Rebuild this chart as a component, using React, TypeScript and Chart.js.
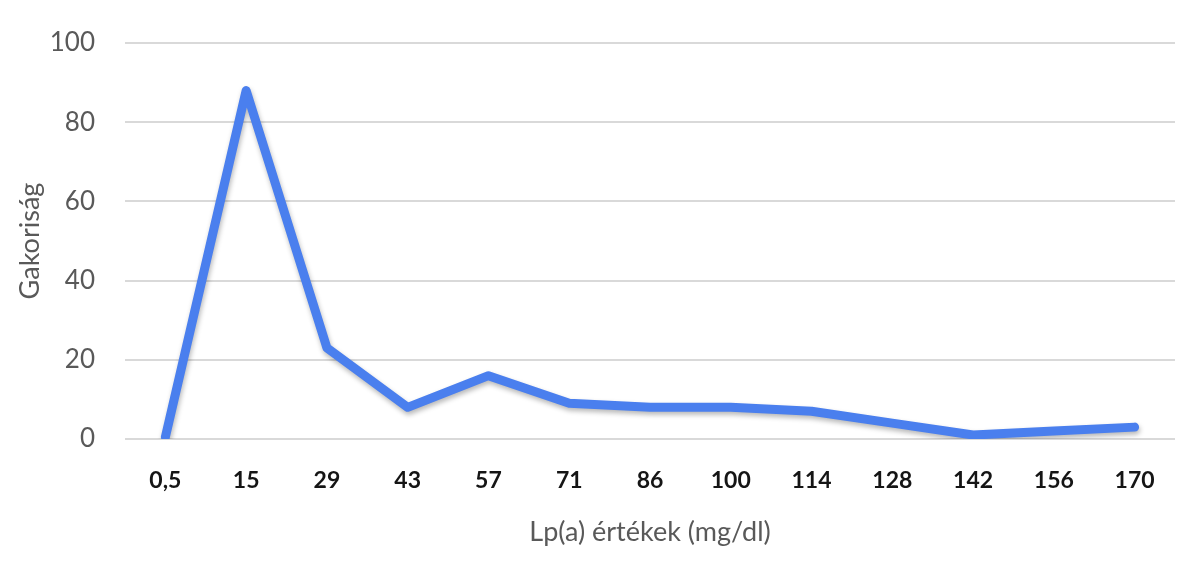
import React, { useEffect, useRef } from "react";
import { Chart, registerables } from "chart.js";

Chart.register(...registerables);

const categories = ["0,5", "15", "29", "43", "57", "71", "86", "100", "114", "128", "142", "156", "170"];
const frequency = [0.5, 88, 23, 8, 16, 9, 8, 8, 7, 4, 1, 2, 3];
const yTicks = [0, 20, 40, 60, 80, 100];
const xTitle = "Lp(a) értékek (mg/dl)";
const yTitle = "Gakoriság";

const shadowPlugin = {
  id: "lineShadow",
  beforeDatasetDraw(chart: any) {
    const ctx = chart.ctx;
    ctx.save();
    ctx.shadowColor = "rgba(0,0,0,0.28)";
    ctx.shadowBlur = 5;
    ctx.shadowOffsetX = 1;
    ctx.shadowOffsetY = 3;
  },
  afterDatasetDraw(chart: any) {
    chart.ctx.restore();
  },
};

export default function App() {
  const ref = useRef<HTMLCanvasElement>(null);
  useEffect(() => {
    if (!ref.current) return;
    const font = "Lato, 'Open Sans', sans-serif";
    const chart = new Chart(ref.current, {
      type: "line",
      data: {
        labels: categories,
        datasets: [
          {
            data: frequency,
            borderColor: "#4a7fee",
            borderWidth: 9,
            borderCapStyle: "round",
            borderJoinStyle: "round",
            pointRadius: 0,
            tension: 0,
            fill: false,
          },
        ],
      },
      plugins: [shadowPlugin],
      options: {
        animation: false,
        responsive: false,
        devicePixelRatio: 1,
        layout: { padding: { top: 43, right: 25, left: 0, bottom: 0 } },
        plugins: { legend: { display: false }, tooltip: { enabled: false } },
        scales: {
          x: {
            offset: true,
            grid: { display: false },
            border: { display: false },
            ticks: {
              color: "#151515",
              font: { family: font, size: 23, weight: "bold" },
              padding: 20,
              maxRotation: 0,
              autoSkip: false,
            },
            title: {
              display: true,
              text: xTitle,
              color: "#595959",
              font: { family: font, size: 27 },
              padding: { top: 0, bottom: 14 },
            },
            afterFit(scale: any) {
              scale.height = 123;
            },
          },
          y: {
            min: 0,
            max: 100,
            afterBuildTicks(scale: any) {
              scale.ticks = yTicks.map((v) => ({ value: v }));
            },
            grid: { color: "#d9d9d9", lineWidth: 2, drawTicks: false },
            border: { display: false },
            ticks: {
              color: "#595959",
              font: { family: font, size: 26 },
              padding: 30,
            },
            title: {
              display: true,
              text: yTitle,
              color: "#595959",
              font: { family: font, size: 27 },
              padding: { top: 14, bottom: 0 },
            },
            afterFit(scale: any) {
              scale.width = 125;
              scale.paddingTop = 0;
              scale.paddingBottom = 0;
            },
          },
        },
      },
    });
    return () => chart.destroy();
  }, []);
  return (
    <div style={{ position: "fixed", left: 0, top: 0, width: 1200, height: 562, background: "#ffffff" }}>
      <canvas ref={ref} width={1200} height={562} style={{ width: 1200, height: 562, display: "block" }} />
    </div>
  );
}
